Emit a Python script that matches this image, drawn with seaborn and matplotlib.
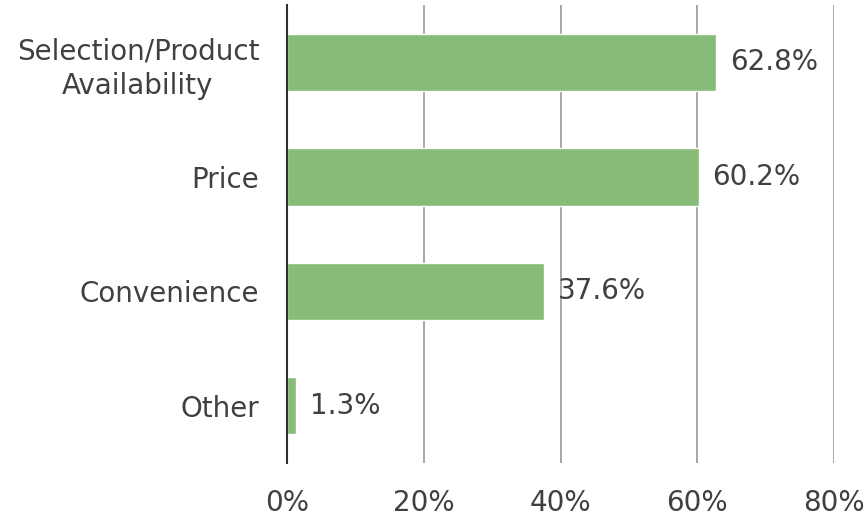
import pandas as pd
import seaborn as sns
import matplotlib.pyplot as plt

categories = ["Selection/Product\nAvailability", "Price", "Convenience", "Other"]
shares = [62.8, 60.2, 37.6, 1.3]
ticks = [0, 20, 40, 60, 80]
tick_labels = ["0%", "20%", "40%", "60%", "80%"]

df = pd.DataFrame({"reason": categories, "share": shares})

sns.set_style("white")
plt.rcParams["font.family"] = ["DejaVu Sans"]

fig, ax = plt.subplots(figsize=(8.67, 5.22), dpi=100)
fig.subplots_adjust(left=0.331, right=0.962, top=0.99, bottom=0.113)

sns.barplot(data=df, y="reason", x="share", orient="h", color="#86bc77",
            width=0.5, saturation=1, ax=ax, zorder=3)

ax.set_xlim(0, 80)
ax.set_ylim(3.5, -0.5)
ax.set_xticks(ticks)
ax.set_xticklabels(tick_labels)
ax.grid(axis="x", color="#a0a0a0", linewidth=1.3, zorder=0)
ax.grid(axis="y", visible=False)
ax.set_axisbelow(True)

for side in ["top", "right", "bottom"]:
    ax.spines[side].set_visible(False)
ax.spines["left"].set_color("#303030")
ax.spines["left"].set_linewidth(1.5)
ax.spines["left"].set_zorder(4)

ax.set_xlabel("")
ax.set_ylabel("")
ax.tick_params(axis="x", length=0, pad=19, labelsize=20, labelcolor="#404040")
ax.tick_params(axis="y", length=0, pad=20, labelsize=20, labelcolor="#404040")
for lbl in ax.get_yticklabels():
    lbl.set_multialignment("center")
    lbl.set_linespacing(1.3)

ax.bar_label(ax.containers[0], labels=[f"{v:.1f}%" for v in shares],
             padding=10, fontsize=20, color="#404040")

fig.savefig("out.png", dpi=100)
